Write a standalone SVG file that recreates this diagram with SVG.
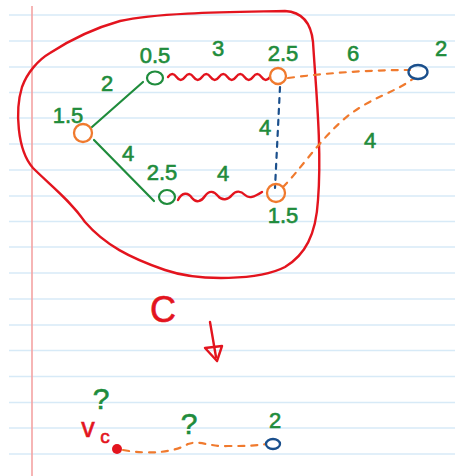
<svg xmlns="http://www.w3.org/2000/svg" width="455" height="476" viewBox="0 0 455 476">
<defs>
<style>
.rule{stroke:#d7eaf7;stroke-width:1.5}
.lbl{font-family:"Liberation Sans",Arial,sans-serif;font-size:22px;fill:#1f8c3c;stroke:#1f8c3c;stroke-width:0.6;text-anchor:middle}
.g{stroke:#1f8c3c;stroke-width:2.2;fill:none;stroke-linecap:round}
.r{stroke:#e3141e;stroke-width:2.4;fill:none;stroke-linecap:round}
.o{stroke:#f07a2e;stroke-width:2.3;fill:none;stroke-linecap:round}
.b{stroke:#1a4f8c;stroke-width:2.3;fill:none;stroke-linecap:round}
.od{stroke:#f07a2e;stroke-width:2.2;fill:none;stroke-dasharray:6 7;stroke-linecap:round}
.bd{stroke:#1a4f8c;stroke-width:2.2;fill:none;stroke-dasharray:5 6;stroke-linecap:round}
.rt{font-family:"Liberation Sans",Arial,sans-serif;fill:#e3141e;stroke:#e3141e;stroke-width:0.6;text-anchor:middle}
</style>
</defs>
<rect width="455" height="476" fill="#ffffff"/>
<g id="paper">
<line class="rule" x1="9" y1="15" x2="455" y2="15"/>
<line class="rule" x1="9" y1="41" x2="455" y2="41"/>
<line class="rule" x1="9" y1="67" x2="455" y2="67"/>
<line class="rule" x1="9" y1="92.5" x2="455" y2="92.5"/>
<line class="rule" x1="9" y1="118" x2="455" y2="118"/>
<line class="rule" x1="9" y1="144" x2="455" y2="144"/>
<line class="rule" x1="9" y1="170" x2="455" y2="170"/>
<line class="rule" x1="9" y1="196" x2="455" y2="196"/>
<line class="rule" x1="9" y1="221.5" x2="455" y2="221.5"/>
<line class="rule" x1="9" y1="247" x2="455" y2="247"/>
<line class="rule" x1="9" y1="273" x2="455" y2="273"/>
<line class="rule" x1="9" y1="299" x2="455" y2="299"/>
<line class="rule" x1="9" y1="325" x2="455" y2="325"/>
<line class="rule" x1="9" y1="350.5" x2="455" y2="350.5"/>
<line class="rule" x1="9" y1="376.5" x2="455" y2="376.5"/>
<line class="rule" x1="9" y1="402.5" x2="455" y2="402.5"/>
<line class="rule" x1="9" y1="428" x2="455" y2="428"/>
<line class="rule" x1="9" y1="454" x2="455" y2="454"/>
<line x1="32" y1="6" x2="32" y2="476" stroke="#f4a3a3" stroke-width="1.6"/>
</g>
<g id="cluster">
<path class="r" d="M50 53 C70 40 95 28 120 21 C160 12 240 12 285 11 C302 12 311 22 313 42 C316 90 322 150 318 200 C316 235 305 255 285 267 C260 280 200 282 165 270 C130 258 105 245 85 222 C70 200 50 185 33 168 C17 150 15 110 22 87 C27 73 38 60 50 53 Z"/>
</g>
<g id="connectors">
<line class="g" x1="92" y1="127" x2="143" y2="82"/>
<line class="g" x1="94" y1="140" x2="154" y2="201"/>
<path class="r" d="M168 77 q4.25 -6 8.5 0 t8.5 0 t8.5 0 t8.5 0 t8.5 0 t8.5 0 t8.5 0 t8.5 0 t8.5 0 t8.5 0 t8.5 0 t8.5 0"/>
<path class="r" d="M178 200 C182 192 188 192 192 198 C196 203 201 202 205 196 C209 190 214 191 218 196 C222 201 228 200 232 195 C236 190 241 191 245 195 C249 199 254 197 262 192"/>
<path class="bd" d="M280 87 L275 188"/>
<path class="od" d="M288 78 Q350 70 410 70"/>
<path class="od" d="M283 187 C300 170 318 142 343 120 S395 93 414 78"/>
<path class="od" d="M123 450 C150 455 175 452 188 444 C200 440 210 447 228 446 C245 446 255 446 266 444"/>
<path class="r" d="M210 322 L216 357"/>
<path class="r" d="M205 348 L222 346 L217 361 Z" stroke-linejoin="round"/>
</g>
<g id="n_left">
<circle class="o" cx="83" cy="133" r="9"/>
<text class="lbl" x="68" y="123">1.5</text>
</g>
<g id="n_top">
<ellipse class="g" cx="155" cy="78" rx="8" ry="6.5"/>
<text class="lbl" x="155" y="63">0.5</text>
</g>
<g id="n_bottom">
<ellipse class="g" cx="167" cy="197" rx="8" ry="7"/>
<text class="lbl" x="162" y="180">2.5</text>
</g>
<g id="n_topright">
<circle class="o" cx="278" cy="76" r="8"/>
<text class="lbl" x="283" y="61">2.5</text>
</g>
<g id="n_bottomright">
<circle class="o" cx="276" cy="193" r="9"/>
<text class="lbl" x="283" y="223">1.5</text>
</g>
<g id="n_blue">
<ellipse class="b" cx="418" cy="72" rx="9.5" ry="7"/>
<text class="lbl" x="441" y="56">2</text>
</g>
<g id="edge_labels">
<text class="lbl" x="218" y="56">3</text>
<text class="lbl" x="107" y="91">2</text>
<text class="lbl" x="128" y="161">4</text>
<text class="lbl" x="223" y="181">4</text>
<text class="lbl" x="353" y="61">6</text>
<text class="lbl" x="265" y="135">4</text>
<text class="lbl" x="370" y="148">4</text>
</g>
<g id="contracted">
<text class="rt" x="163" y="322" font-size="36">C</text>
</g>
<g id="n_vc">
<circle cx="117" cy="449" r="5" fill="#e3141e"/>
<text class="rt" x="88" y="437" font-size="27">v</text>
<text class="rt" x="105" y="443" font-size="19">c</text>
</g>
<g id="q1">
<text class="lbl" x="101" y="409" style="font-size:30px">?</text>
</g>
<g id="q2">
<text class="lbl" x="189" y="434" style="font-size:30px">?</text>
</g>
<g id="n_blue2">
<ellipse class="b" cx="273" cy="444" rx="7" ry="5"/>
<text class="lbl" x="275" y="428">2</text>
</g>
</svg>
